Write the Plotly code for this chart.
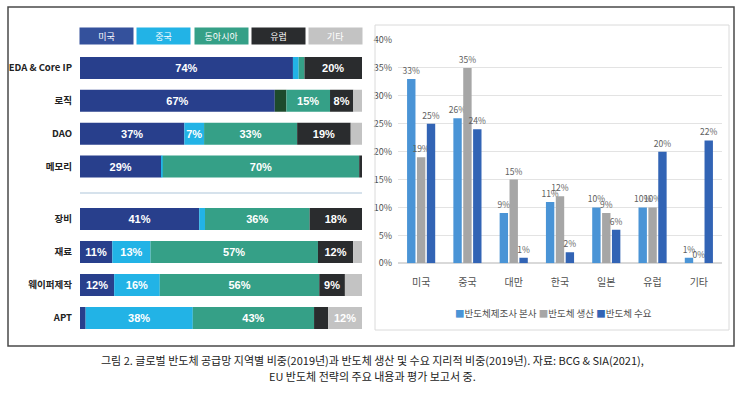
import numpy as np
import plotly.graph_objects as go

W, H = 750, 394
def px(x): return x / W
def py(y): return 1 - y / H

# ---------- Left chart data ----------
regions = ["미국", "중국", "동아시아", "유럽", "기타"]
region_colors = ["#283f8c", "#22b3e6", "#35a087", "#2a2c2e", "#c3c3c3"]
legend_box_colors = ["#34519c", "#22b3e6", "#35a087", "#2a2c2e", "#c3c3c3"]
top_rows = ["EDA & Core IP", "로직", "DAO", "메모리"]
bottom_rows = ["장비", "재료", "웨이퍼제작", "APT"]
rows = top_rows + bottom_rows
usa   = [74, 67, 37, 29, 41, 11, 12, 2]
china = [2, 4, 7, 0.5, 2, 13, 16, 38]
east_asia = [2, 15, 33, 70, 36, 57, 56, 43]
europe = [20, 8, 19, 1, 18, 12, 9, 5]
others = [0, 3, 4, 0, 0, 3, 6, 12]
series = [usa, china, east_asia, europe, others]

# ---------- Right chart data ----------
countries = ["미국", "중국", "대만", "한국", "일본", "유럽", "기타"]
hq = [33, 26, 9, 11, 10, 10, 1]
production = [19, 35, 15, 12, 9, 10, 0]
demand = [25, 24, 1, 2, 6, 20, 22]
right_names = ["반도체제조사 본사", "반도체 생산", "반도체 수요"]
right_colors = ["#4a94d6", "#a6a6a6", "#3264b5"]
right_values = [hq, production, demand]
y_ticks = [0, 5, 10, 15, 20, 25, 30, 35, 40]

caption_lines = [
    "그림 2. 글로벌 반도체 공급망 지역별 비중(2019년)과 반도체 생산 및 수요 지리적 비중(2019년). 자료: BCG & SIA(2021),",
    "EU 반도체 전략의 주요 내용과 평가 보고서 중.",
]

narrow = "Liberation Sans Narrow, Noto Sans CJK KR"

fig = go.Figure()

vals = np.array(series, dtype=float)  # 5 x 8
norm = vals / vals.sum(axis=0) * 100
base = np.vstack([np.zeros(vals.shape[1]), np.cumsum(norm, axis=0)[:-1]])

for i, name in enumerate(regions):
    for part, (rlist, yax, xax) in enumerate([(top_rows, "y", "x"), (bottom_rows, "y2", "x2")]):
        idx = [rows.index(r) for r in rlist]
        colors = [region_colors[i]] * len(idx)
        if name == "중국" and part == 0:
            colors[1] = "#1d4a2c"  # dark segment in 로직
        fig.add_trace(go.Bar(
            y=rlist, x=norm[i, idx], base=base[i, idx], orientation="h",
            name=name, marker=dict(color=colors, line=dict(width=0)),
            width=0.67, offset=-0.335,
            text=[f"{vals[i, j]:g}%" if vals[i, j] >= 7 else "" for j in idx],
            textposition="inside", insidetextanchor="middle", textangle=0,
            constraintext="none",
            textfont=dict(color="white", size=11, family="Liberation Sans", weight="bold"),
            xaxis=xax, yaxis=yax, showlegend=False, hoverinfo="skip",
        ))

for name, color, v in zip(right_names, right_colors, right_values):
    fig.add_trace(go.Bar(
        x=countries, y=v, name=name, marker=dict(color=color, line=dict(width=0)),
        text=[f"{a}%" for a in v], textposition="outside", cliponaxis=False,
        constraintext="none",
        textfont=dict(size=8.5, color="#606060", family=narrow),
        xaxis="x3", yaxis="y3", showlegend=False,
    ))

left_x = [px(80), px(362)]
row_font = dict(size=9.5, color="#222", family="Noto Sans CJK KR", weight="bold")
fig.update_layout(
    width=W, height=H, margin=dict(l=0, r=0, t=0, b=0, autoexpand=False),
    paper_bgcolor="white", plot_bgcolor="white",
    barmode="group", bargap=0.36, bargroupgap=0.15,
    showlegend=False,
    xaxis=dict(domain=left_x, range=[0, 100], visible=False, automargin=False),
    yaxis=dict(domain=[py(183), py(51.5)], autorange="reversed", showgrid=False,
               zeroline=False, showline=False, ticks="", ticklabelstandoff=7,
               automargin=False, tickfont=row_font),
    xaxis2=dict(domain=left_x, range=[0, 100], visible=False, anchor="y2", automargin=False),
    yaxis2=dict(domain=[py(334.5), py(202.5)], autorange="reversed", showgrid=False,
                zeroline=False, showline=False, ticks="", ticklabelstandoff=7, anchor="x2",
                automargin=False, tickfont=row_font),
    xaxis3=dict(domain=[px(398), px(722)], anchor="y3", showgrid=False, ticks="",
                showline=False, ticklabelstandoff=12, automargin=False,
                tickfont=dict(size=10, color="#505050", family="Noto Sans CJK KR")),
    yaxis3=dict(domain=[py(263.3), py(40)], anchor="x3", range=[0, 40],
                tickvals=y_ticks, ticktext=[f"{t}%" for t in y_ticks],
                showgrid=True, gridcolor="#e3e3e3", gridwidth=1, zeroline=True,
                zerolinecolor="#d9d9d9", ticks="", ticklabelstandoff=5, automargin=False,
                tickfont=dict(size=9, color="#505050", family=narrow)),
)

shapes = [
    dict(type="rect", xref="paper", yref="paper", x0=px(8), x1=px(734), y0=py(346), y1=py(7),
         line=dict(color="#4a4a4a", width=1.5)),
    dict(type="rect", xref="paper", yref="paper", x0=px(375), x1=px(729), y0=py(330), y1=py(25),
         line=dict(color="#dadada", width=1)),
    dict(type="line", xref="paper", yref="paper", x0=px(80), x1=px(362), y0=py(193), y1=py(193),
         line=dict(color="#c8d9e6", width=1.5)),
]
annotations = []
for i, (name, c) in enumerate(zip(regions, legend_box_colors)):
    annotations.append(dict(
        x=px(80 + 57.3 * i + 26.5), y=py(36), xref="paper", yref="paper",
        xanchor="center", yanchor="middle",
        text=name, showarrow=False, bgcolor=c, width=51, height=14, borderpad=1,
        font=dict(size=9, color="white", family="Noto Sans CJK KR"),
    ))
legend_text = "&nbsp;".join(
    f"<span style='color:{c}'>■</span>{n}" for n, c in zip(right_names, right_colors))
annotations.append(dict(
    x=px(553), y=py(313), xref="paper", yref="paper", text=legend_text, showarrow=False,
    xanchor="center", yanchor="middle",
    font=dict(size=9.5, color="#505050", family="Noto Sans CJK KR"),
))
for line, yy in zip(caption_lines, [359.5, 375.5]):
    annotations.append(dict(
        x=px(372), y=py(yy), xref="paper", yref="paper", showarrow=False,
        xanchor="center", yanchor="middle", text=line,
        font=dict(size=11, color="#222", family="Noto Sans CJK KR"),
    ))
fig.update_layout(shapes=shapes, annotations=annotations)

fig.write_html("out.html", config={"displayModeBar": False},
               post_script="document.body.style.margin='0';document.body.style.overflow='hidden';")
